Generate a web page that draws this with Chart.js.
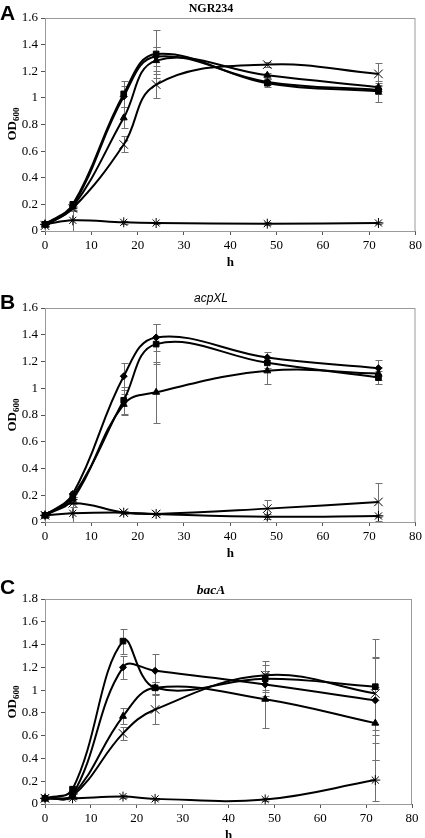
<!DOCTYPE html>
<html><head><meta charset="utf-8">
<script src="https://cdn.jsdelivr.net/npm/chart.js@4"></script>
<style>
body{margin:0;background:#fff;width:425px;height:838px;position:relative;overflow:hidden}
canvas{position:absolute;left:0}
.lbl{position:absolute;left:0;font-family:"Liberation Sans",Arial,sans-serif;font-weight:bold;font-size:21px;line-height:1;z-index:2}
.ttl{position:absolute;left:0;width:422px;text-align:center;line-height:1;z-index:2}
.yt{position:absolute;width:60px;text-align:center;font-family:"Liberation Serif",serif;font-weight:bold;font-size:13px;line-height:16px;transform:rotate(-90deg);white-space:nowrap;z-index:2}
.yt sub{font-size:9px;vertical-align:-3px;line-height:0}
</style>
</head><body>
<div class="lbl" style="top:2px">A</div>
<div class="ttl" style="top:2px;font-family:'Liberation Serif',serif;font-weight:bold;font-size:12px">NGR234</div>
<div class="yt" style="left:-18px;top:116px">OD<sub>600</sub></div>
<div class="lbl" style="top:291px">B</div>
<div class="ttl" style="top:292px;font-family:'Liberation Sans',Arial,sans-serif;font-style:italic;font-size:12px">acpXL</div>
<div class="yt" style="left:-18px;top:407px">OD<sub>600</sub></div>
<div class="lbl" style="top:576px">C</div>
<div class="ttl" style="top:583px;font-family:'Liberation Serif',serif;font-weight:bold;font-style:italic;font-size:13.5px">bacA</div>
<div class="yt" style="left:-18px;top:694px">OD<sub>600</sub></div>
<canvas id="cA"></canvas>
<canvas id="cB"></canvas>
<canvas id="cC"></canvas>
<script>
// sampling times (h)
const hours = [0, 6, 17, 24, 48, 72];

// Panel A: NGR234
const A_diamond  = [0.05, 0.19, 1.01, 1.31, 1.12, 1.06];
const A_square   = [0.05, 0.20, 1.03, 1.33, 1.11, 1.05];
const A_triangle = [0.05, 0.18, 0.85, 1.28, 1.17, 1.08];
const A_cross    = [0.04, 0.17, 0.65, 1.10, 1.25, 1.18];
const A_star     = [0.05, 0.08, 0.065, 0.06, 0.055, 0.06];
const A_diamondErr  = [0.01, 0.02, 0.08, 0.07, 0.02, 0.03];
const A_squareErr   = [0.01, 0.02, 0.10, 0.18, 0.03, 0.08];
const A_triangleErr = [0.01, 0.02, 0.08, 0.10, 0.02, 0.03];
const A_crossErr    = [0.01, 0.02, 0.06, 0.10, 0.02, 0.08];
const A_starErr     = [0.005, 0.12, 0.01, 0.01, 0.01, 0.01];

// Panel B: acpXL
const B_diamond  = [0.05, 0.21, 1.09, 1.38, 1.23, 1.15];
const B_square   = [0.05, 0.19, 0.91, 1.33, 1.19, 1.08];
const B_triangle = [0.05, 0.17, 0.88, 0.97, 1.13, 1.11];
const B_cross    = [0.05, 0.14, 0.07, 0.06, 0.10, 0.15];
const B_star     = [0.05, 0.065, 0.07, 0.06, 0.04, 0.045];
const B_diamondErr  = [0.01, 0.02, 0.10, 0.10, 0.04, 0.06];
const B_squareErr   = [0.01, 0.02, 0.10, 0.15, 0.04, 0.05];
const B_triangleErr = [0.01, 0.02, 0.08, 0.23, 0.10, 0.05];
const B_crossErr    = [0.005, 0.03, 0.01, 0.01, 0.065, 0.145];
const B_starErr     = [0.005, 0.07, 0.01, 0.01, 0.02, 0.01];

// Panel C: bacA
const C_diamond  = [0.05, 0.08, 1.20, 1.17, 1.05, 0.91];
const C_square   = [0.05, 0.13, 1.43, 1.02, 1.10, 1.03];
const C_triangle = [0.05, 0.08, 0.77, 1.02, 0.92, 0.71];
const C_cross    = [0.05, 0.07, 0.62, 0.83, 1.13, 0.97];
const C_star     = [0.05, 0.05, 0.065, 0.045, 0.04, 0.21];
const C_diamondErr  = [0.01, 0.02, 0.10, 0.15, 0.10, 0.37];
const C_squareErr   = [0.01, 0.03, 0.11, 0.05, 0.12, 0.42];
const C_triangleErr = [0.01, 0.02, 0.07, 0.05, 0.25, 0.32];
const C_crossErr    = [0.01, 0.02, 0.06, 0.13, 0.13, 0.32];
const C_starErr     = [0.005, 0.01, 0.01, 0.01, 0.01, 0.18];

const xTicks = {min: 0, max: 80, step: 10};
const yTicksAB = {min: 0, max: 1.6, step: 0.2};
const yTicksC  = {min: 0, max: 1.8, step: 0.2};

Chart.defaults.font.family = '"Liberation Serif", "Times New Roman", serif';
Chart.defaults.font.size = 13;
Chart.defaults.color = '#000';

const errorBars = {
  id: 'errorBars',
  beforeDatasetsDraw(chart) {
    const {ctx, chartArea: a, scales: {x, y}} = chart;
    ctx.save();
    ctx.strokeStyle = '#9a9a9a';
    ctx.lineWidth = 1;
    ctx.strokeRect(a.left + 0.5, a.top + 0.5, a.right - a.left - 1, a.bottom - a.top);
    ctx.beginPath();
    ctx.rect(a.left, a.top, a.right - a.left, a.bottom - a.top);
    ctx.clip();
    ctx.strokeStyle = '#707070';
    chart.data.datasets.forEach(d => {
      d.data.forEach((p, i) => {
        const e = d.errors[i];
        if (!e) return;
        const px = Math.round(x.getPixelForValue(p.x)) + 0.5;
        const y1 = Math.round(y.getPixelForValue(p.y + e)) + 0.5;
        const y2 = Math.round(y.getPixelForValue(p.y - e)) + 0.5;
        ctx.beginPath();
        ctx.moveTo(px, y1); ctx.lineTo(px, y2);
        ctx.moveTo(px - 3, y1); ctx.lineTo(px + 4, y1);
        ctx.moveTo(px - 3, y2); ctx.lineTo(px + 4, y2);
        ctx.stroke();
      });
    });
    ctx.restore();
  }
};

function ds(vals, errs, style, radius, bw) {
  return {
    data: hours.map((h, i) => ({x: h, y: vals[i]})),
    errors: errs,
    borderColor: '#000', backgroundColor: '#000',
    borderWidth: 2, tension: 0.4, fill: false, clip: false,
    pointStyle: style, pointRadius: radius, pointBorderWidth: bw,
    pointBackgroundColor: '#000', pointBorderColor: '#000'
  };
}

function makeChart(id, top, height, areaBottom, axisH, right, yT, sets) {
  const cv = document.getElementById(id);
  cv.style.top = top + 'px';
  cv.width = 425; cv.height = height;
  cv.style.width = '425px'; cv.style.height = height + 'px';
  return new Chart(cv, {
    type: 'line',
    data: {datasets: sets},
    options: {
      responsive: false, animation: false, events: [],
      layout: {padding: {top: 18, left: 0, right: 425 - right, bottom: height - areaBottom - axisH}},
      plugins: {legend: {display: false}, tooltip: {enabled: false}},
      scales: {
        x: {
          type: 'linear', min: xTicks.min, max: xTicks.max,
          ticks: {stepSize: xTicks.step, padding: 3, maxRotation: 0, font: {size: 13}},
          grid: {drawOnChartArea: false, drawTicks: true, tickLength: 4, color: '#555'},
          border: {display: true, color: '#555', width: 1},
          title: {display: true, text: 'h', font: {weight: 'bold', size: 13}, padding: {top: 1, bottom: 0}},
          afterFit(s) { s.height = axisH; }
        },
        y: {
          type: 'linear', min: yT.min, max: yT.max,
          ticks: {stepSize: yT.step, padding: 3, font: {size: 13},
                  callback: v => String(Math.round(v * 10) / 10)},
          grid: {drawOnChartArea: false, drawTicks: true, tickLength: 4, color: '#555'},
          border: {display: true, color: '#555', width: 1},
          afterFit(s) { s.width = 45; }
        }
      }
    },
    plugins: [errorBars]
  });
}

makeChart('cA', 0, 280, 231, 39, 419, yTicksAB, [
  ds(A_star, A_starErr, 'star', 5, 1),
  ds(A_cross, A_crossErr, 'crossRot', 6, 1),
  ds(A_triangle, A_triangleErr, 'triangle', 4, 1),
  ds(A_diamond, A_diamondErr, 'rectRot', 3.5, 1),
  ds(A_square, A_squareErr, 'rect', 4, 1)
]);
makeChart('cB', 290, 280, 232, 39, 419, yTicksAB, [
  ds(B_star, B_starErr, 'star', 5, 1),
  ds(B_cross, B_crossErr, 'crossRot', 6, 1),
  ds(B_triangle, B_triangleErr, 'triangle', 4, 1),
  ds(B_diamond, B_diamondErr, 'rectRot', 3.5, 1),
  ds(B_square, B_squareErr, 'rect', 4, 1)
]);
makeChart('cC', 581, 264, 223, 39, 412, yTicksC, [
  ds(C_star, C_starErr, 'star', 5, 1),
  ds(C_cross, C_crossErr, 'crossRot', 6, 1),
  ds(C_triangle, C_triangleErr, 'triangle', 4, 1),
  ds(C_diamond, C_diamondErr, 'rectRot', 3.5, 1),
  ds(C_square, C_squareErr, 'rect', 4, 1)
]);
</script>
</body></html>
